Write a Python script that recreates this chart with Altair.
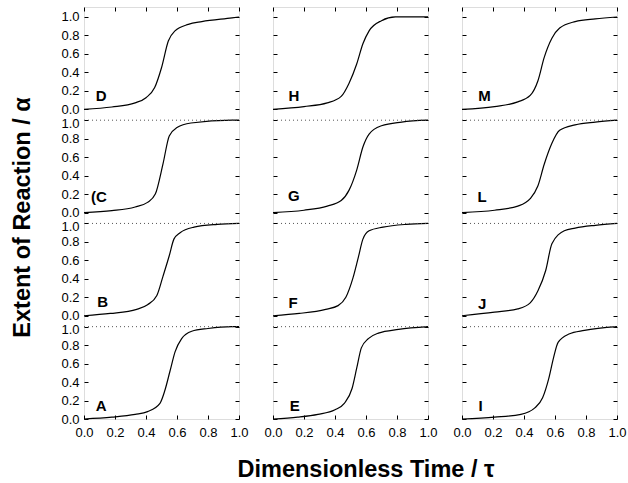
import altair as alt
import pandas as pd

# ---------------- data ----------------
# column 1 (top to bottom: D, C, B, A)
D_x = [0, 0.18, 0.33, 0.40, 0.456, 0.50, 0.544, 0.587, 0.673, 0.76, 0.955, 1.0]
D_y = [0, 0.025, 0.07, 0.126, 0.235, 0.45, 0.74, 0.85, 0.92, 0.95, 0.99, 1.0]
C_x = [0, 0.18, 0.33, 0.41, 0.46, 0.51, 0.55, 0.60, 0.69, 0.955, 1.0]
C_y = [0, 0.02, 0.06, 0.11, 0.20, 0.53, 0.83, 0.92, 0.97, 1.0, 1.0]
B_x = [0, 0.17, 0.34, 0.41, 0.47, 0.51, 0.55, 0.58, 0.62, 0.71, 0.86, 1.0]
B_y = [0, 0.025, 0.07, 0.12, 0.22, 0.43, 0.65, 0.83, 0.90, 0.96, 0.99, 1.0]
A_x = [0, 0.18, 0.33, 0.41, 0.49, 0.52, 0.555, 0.588, 0.63, 0.695, 0.80, 0.955, 1.0]
A_y = [0, 0.02, 0.05, 0.08, 0.17, 0.30, 0.52, 0.73, 0.87, 0.95, 0.98, 1.0, 1.0]
# column 2 (H, G, F, E)
H_x = [0, 0.2, 0.35, 0.44, 0.49, 0.54, 0.58, 0.62, 0.70, 0.79, 1.0]
H_y = [0, 0.03, 0.07, 0.14, 0.28, 0.49, 0.71, 0.85, 0.96, 1.0, 1.0]
G_x = [0, 0.2, 0.35, 0.44, 0.49, 0.54, 0.58, 0.62, 0.70, 0.83, 1.0]
G_y = [0, 0.025, 0.07, 0.13, 0.24, 0.46, 0.71, 0.85, 0.94, 0.98, 1.0]
F_x = [0, 0.17, 0.34, 0.42, 0.47, 0.516, 0.55, 0.58, 0.62, 0.71, 0.86, 1.0]
F_y = [0, 0.025, 0.07, 0.11, 0.20, 0.41, 0.63, 0.83, 0.92, 0.96, 0.99, 1.0]
E_x = [0, 0.16, 0.29, 0.40, 0.46, 0.51, 0.54, 0.57, 0.615, 0.68, 0.81, 1.0]
E_y = [0, 0.02, 0.05, 0.10, 0.17, 0.33, 0.55, 0.77, 0.87, 0.93, 0.97, 1.0]
# column 3 (M, L, J, I)
M_x = [0, 0.21, 0.36, 0.44, 0.49, 0.53, 0.58, 0.63, 0.73, 0.86, 1.0]
M_y = [0, 0.03, 0.08, 0.15, 0.31, 0.56, 0.77, 0.88, 0.95, 0.98, 1.0]
L_x = [0, 0.21, 0.36, 0.44, 0.49, 0.53, 0.58, 0.63, 0.73, 0.86, 1.0]
L_y = [0, 0.025, 0.07, 0.15, 0.29, 0.52, 0.75, 0.89, 0.95, 0.98, 1.0]
J_x = [0, 0.21, 0.36, 0.44, 0.49, 0.54, 0.58, 0.66, 0.73, 0.86, 1.0]
J_y = [0, 0.04, 0.075, 0.14, 0.27, 0.49, 0.78, 0.92, 0.95, 0.98, 1.0]
I_x = [0, 0.21, 0.38, 0.47, 0.52, 0.56, 0.59, 0.62, 0.69, 0.79, 1.0]
I_y = [0, 0.02, 0.05, 0.12, 0.23, 0.44, 0.66, 0.83, 0.92, 0.96, 1.0]

# panel label text, grid column, grid row (0 = bottom), label position (data units)
panel_names = ["D", "C", "B", "A", "H", "G", "F", "E", "M", "L", "J", "I"]
panel_texts = ["D", "(C", "B", "A", "H", "G", "F", "E", "M", "L", "J", "I"]
panel_cols = [0, 0, 0, 0, 1, 1, 1, 1, 2, 2, 2, 2]
panel_rows = [3, 2, 1, 0, 3, 2, 1, 0, 3, 2, 1, 0]
label_x = [0.11, 0.096, 0.12, 0.11, 0.135, 0.135, 0.13, 0.14, 0.145, 0.13, 0.13, 0.12]
label_y = [0.145, 0.17, 0.145, 0.14, 0.14, 0.18, 0.137, 0.14, 0.14, 0.17, 0.13, 0.14]
curves = {"D": (D_x, D_y), "C": (C_x, C_y), "B": (B_x, B_y), "A": (A_x, A_y),
          "H": (H_x, H_y), "G": (G_x, G_y), "F": (F_x, F_y), "E": (E_x, E_y),
          "M": (M_x, M_y), "L": (L_x, L_y), "J": (J_x, J_y), "I": (I_x, I_y)}

tick_vals = [0.0, 0.2, 0.4, 0.6, 0.8, 1.0]

# ---------------- layout constants ----------------
P = 1.118              # row pitch in data units
TOP = 3 * P + 1.108    # top of each column
W, H = 155, 412
FONT = "Liberation Sans"

ytick_vals = [round(r * P + v, 4) for r in range(4) for v in tick_vals]
label_expr = "format(abs(datum.value - floor((datum.value + 0.02) / 1.118) * 1.118), '.1f')"
one_test = ("datum.value > 0.9 && datum.value < 3.3 && "
            "(datum.value - floor((datum.value + 0.02) / 1.118) * 1.118) > 0.9")

line_rows, label_rows, rule_rows = [], [], []
for name, txt, c, r, lx, ly in zip(panel_names, panel_texts, panel_cols, panel_rows, label_x, label_y):
    xs, ys = curves[name]
    for x, y in zip(xs, ys):
        line_rows.append({"panel": name, "col": c, "row": r, "x": x, "alpha": y})
    label_rows.append({"panel": name, "text": txt, "col": c, "row": r, "x": lx, "alpha": ly})
    if r < 3:
        rule_rows.append({"panel": name, "col": c, "row": r, "x0": 0.0, "x1": 1.0, "alpha": 1.0})

line_df = pd.DataFrame(line_rows)
label_df = pd.DataFrame(label_rows)
rule_df = pd.DataFrame(rule_rows)

xscale = alt.Scale(domain=[0, 1], nice=False, zero=False)
yscale = alt.Scale(domain=[0, TOP], nice=False, zero=False)
calc = "datum.alpha + datum.row * 1.118"


def tick_axis(orient, values):
    return alt.Axis(orient=orient, values=values, labels=False, domain=False, ticks=True,
                    tickSize=4, tickColor="black", tickWidth=1, offset=-4, title=None, grid=False)


def column(c):
    first = c == 0
    middle = c == 1
    if first:
        yaxis = alt.Axis(
            orient="left", values=ytick_vals, labelExpr=label_expr, ticks=False, domain=False,
            labelFont=FONT, labelFontSize=13, labelColor="black", labelPadding=5,
            labelOverlap=False, labelFlush=False,
            labelOffset={"condition": {"test": one_test, "value": 3}, "value": 0},
            title="Extent of Reaction / \u03b1",
            titleFont=FONT, titleFontSize=23.5, titleFontWeight="bold", titleColor="black",
            titlePadding=26, titleY=210, grid=False)
    else:
        yaxis = None
    if middle:
        xaxis = alt.Axis(
            orient="bottom", values=tick_vals, format=".1f", ticks=False, domain=False,
            labelFont=FONT, labelFontSize=13, labelColor="black", labelPadding=7,
            labelOverlap=False, labelFlush=False,
            title="Dimensionless Time / \u03c4",
            titleFont=FONT, titleFontSize=23.5, titleFontWeight="bold", titleColor="black",
            titleX=W / 2 + 15, titleY=57, titleBaseline="alphabetic", titleAlign="center",
            grid=False)
    else:
        xaxis = alt.Axis(
            orient="bottom", values=tick_vals, format=".1f", ticks=False, domain=False,
            labelFont=FONT, labelFontSize=13, labelColor="black", labelPadding=7,
            labelOverlap=False, labelFlush=False, title=None, grid=False)

    lines = alt.Chart(line_df[line_df.col == c]).transform_calculate(yp=calc).mark_line(
        color="black", strokeWidth=1.2, interpolate="monotone"
    ).encode(
        x=alt.X("x:Q", scale=xscale, axis=xaxis),
        y=alt.Y("yp:Q", scale=yscale, axis=yaxis),
        detail="panel:N",
    )
    labels = alt.Chart(label_df[label_df.col == c]).transform_calculate(yp=calc).mark_text(
        font=FONT, fontSize=15, fontWeight="bold", color="black", align="center", baseline="middle"
    ).encode(
        x=alt.X("x:Q", scale=xscale, axis=tick_axis("bottom", tick_vals)),
        y=alt.Y("yp:Q", scale=yscale, axis=tick_axis("left", ytick_vals)),
        text="text:N",
    )
    rules = alt.Chart(rule_df[rule_df.col == c]).transform_calculate(yp=calc).mark_rule(
        color="#555555", strokeWidth=1, strokeDash=[1, 3]
    ).encode(
        x=alt.X("x0:Q", scale=xscale, axis=tick_axis("top", tick_vals)),
        x2="x1:Q",
        y=alt.Y("yp:Q", scale=yscale, axis=tick_axis("right", ytick_vals)),
    )
    return alt.layer(lines, labels, rules).resolve_axis(x="independent", y="independent").properties(
        width=W, height=H)


chart = alt.hconcat(column(0), column(1), column(2), spacing=34, bounds="flush").properties(
    padding={"left": 10, "top": 6, "right": 0, "bottom": 0}
).configure_view(stroke="black", strokeWidth=1).configure(background="white")

chart.save("out.html", embed_options={"renderer": "svg", "actions": False})
